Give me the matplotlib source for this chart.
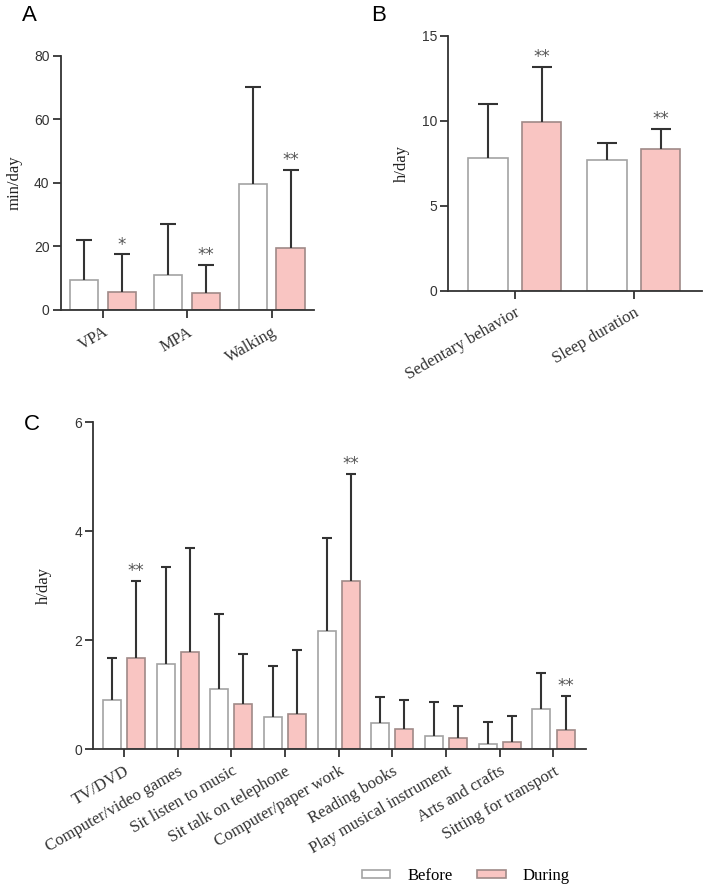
import matplotlib.pyplot as plt
from matplotlib.patches import Patch
import numpy as np

# panel A
catsA = ['VPA', 'MPA', 'Walking']
beforeA = [9.3, 11.1, 39.6]
beforeA_err = [12.7, 16.0, 30.7]
duringA = [5.8, 5.2, 19.6]
duringA_err = [11.7, 8.9, 24.6]
sigA = ['*', '**', '**']

# panel B
catsB = ['Sedentary behavior', 'Sleep duration']
beforeB = [7.8, 7.7]
beforeB_err = [3.2, 1.0]
duringB = [9.96, 8.33]
duringB_err = [3.24, 1.22]
sigB = ['**', '**']

# panel C
catsC = ['TV/DVD', 'Computer/video games', 'Sit listen to music', 'Sit talk on telephone',
         'Computer/paper work', 'Reading books', 'Play musical instrument',
         'Arts and crafts', 'Sitting for transport']
beforeC = [0.90, 1.56, 1.11, 0.60, 2.17, 0.48, 0.24, 0.10, 0.73]
beforeC_err = [0.78, 1.78, 1.38, 0.93, 1.70, 0.48, 0.63, 0.40, 0.67]
duringC = [1.67, 1.79, 0.83, 0.64, 3.09, 0.37, 0.21, 0.13, 0.36]
duringC_err = [1.42, 1.90, 0.92, 1.18, 1.96, 0.53, 0.59, 0.48, 0.62]
sigC = ['**', '', '', '', '**', '', '', '', '**']

PINK = '#f9c5c2'
PINK_EDGE = '#a08a88'
WHITE_EDGE = '#a3a3a3'
DARK = '#333333'

fig = plt.figure(figsize=(7.09, 8.92), dpi=100)


def panel(ax, cats, before, berr, during, derr, sig, ylim, yticks, ylabel, capsize, xlim, labx):
    x = np.arange(len(cats))
    off = 0.224
    w = 0.335
    ax.bar(x - off, before, w, color='white', edgecolor=WHITE_EDGE, linewidth=1.2, zorder=2)
    ax.bar(x + off, during, w, color=PINK, edgecolor=PINK_EDGE, linewidth=1.2, zorder=2)
    z = np.zeros(len(cats))
    for xs, vals, err in [(x - off, before, berr), (x + off, during, derr)]:
        eb = ax.errorbar(xs, vals, yerr=[z, err], fmt='none', ecolor=DARK,
                         elinewidth=1.5, capsize=capsize, capthick=1.5, zorder=3)
        # one-sided bars: hide the lower caps
        eb[1][0].set_visible(False)
    for i, s in enumerate(sig):
        if s:
            ax.annotate(s, (x[i] + off, during[i] + derr[i]), xytext=(0, 0.5),
                        textcoords='offset points', ha='center', va='bottom',
                        fontsize=12, color='#555555', family='DejaVu Sans')
    ax.set_xlim(*xlim)
    ax.set_ylim(*ylim)
    ax.set_yticks(yticks)
    ax.set_xticks(x)
    ax.set_xticklabels(cats, rotation=30, ha='right', va='top', rotation_mode='anchor',
                       family='Liberation Serif', fontsize=12, color='#222222')
    ax.tick_params(axis='y', labelsize=10, colors=DARK, length=6, width=1.3, pad=2)
    ax.tick_params(axis='x', length=6, width=1.3, colors=DARK, pad=4)
    for lab in ax.get_yticklabels():
        lab.set_family('Liberation Sans')
    ax.set_ylabel(ylabel, family='Liberation Serif', fontsize=12, color='#222222')
    ax.yaxis.set_label_coords(labx, 0.5)
    for sp in ['top', 'right']:
        ax.spines[sp].set_visible(False)
    for sp in ['left', 'bottom']:
        ax.spines[sp].set_color(DARK)
        ax.spines[sp].set_linewidth(1.3)


axA = fig.add_axes([0.0856, 0.6525, 0.357, 0.285])
panel(axA, catsA, beforeA, beforeA_err, duringA, duringA_err, sigA,
      (0, 80), [0, 20, 40, 60, 80], 'min/day', 6, (-0.5, 2.5), -0.149)

axB = fig.add_axes([0.6323, 0.6738, 0.3574, 0.2859])
panel(axB, catsB, beforeB, beforeB_err, duringB, duringB_err, sigB,
      (0, 15), [0, 5, 10, 15], 'h/day', 7.5, (-0.56, 1.57), -0.151)

axC = fig.add_axes([0.1316, 0.16, 0.6945, 0.3667])
panel(axC, catsC, beforeC, beforeC_err, duringC, duringC_err, sigC,
      (0, 6), [0, 2, 4, 6], 'h/day', 3.8, (-0.57, 8.6), -0.084)

fig.text(0.041, 0.983, 'A', fontsize=16, family='Liberation Sans', ha='center', va='center')
fig.text(0.534, 0.983, 'B', fontsize=16, family='Liberation Sans', ha='center', va='center')
fig.text(0.045, 0.524, 'C', fontsize=16, family='Liberation Sans', ha='center', va='center')

handles = [Patch(facecolor='white', edgecolor=WHITE_EDGE, linewidth=1.2, label='Before'),
           Patch(facecolor=PINK, edgecolor=PINK_EDGE, linewidth=1.2, label='During')]
fig.legend(handles=handles, loc='center', bbox_to_anchor=(0.657, 0.018), ncol=2,
           frameon=False, prop={'family': 'Liberation Serif', 'size': 12},
           handlelength=1.7, handleheight=0.45, handletextpad=1.0, columnspacing=1.5)

fig.savefig('out.png', dpi=100)
